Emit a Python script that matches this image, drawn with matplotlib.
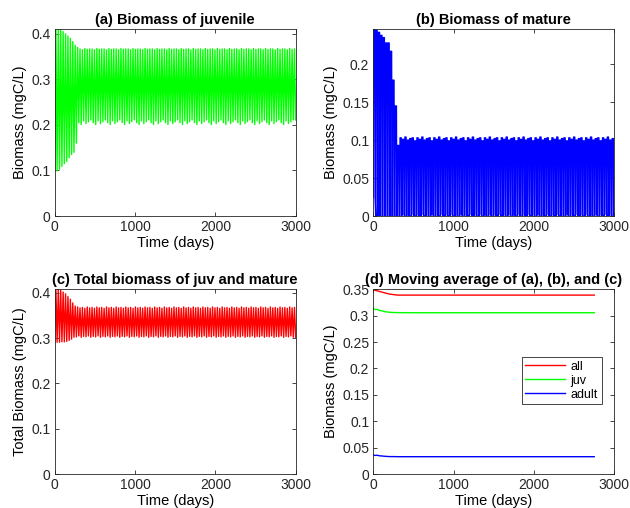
#!/usr/bin/env python3
# four-panel biomass oscillation figure
import matplotlib
matplotlib.use("Agg")
import matplotlib.pyplot as plt
import numpy as np

# === DATA ===
CYCLE_DAYS = 30          # spacing between successive peaks
N_CYCLES = 100           # 0..3000 days

# (a) juvenile: early transient, then repeating steady extremes
JUV_PEAKS_EARLY = [0.41, 0.41, 0.41, 0.405, 0.40, 0.395, 0.39, 0.383, 0.375, 0.37]
JUV_TROUGHS_EARLY = [0.097, 0.099, 0.103, 0.109, 0.115, 0.120, 0.128, 0.135, 0.140, 0.160]
JUV_PEAKS_LATE = [0.367, 0.365, 0.368, 0.366, 0.367]
JUV_TROUGHS_LATE = [0.205, 0.201, 0.209, 0.203, 0.207, 0.211]

# (b) mature: pulses that rise, hold, then fall back to ~0
MAT_PEAKS_EARLY = [0.246, 0.245, 0.242, 0.238, 0.235, 0.228, 0.228, 0.217, 0.179, 0.145, 0.093]
MAT_TROUGHS_EARLY = [0.025, 0.0, 0.0, 0.0, 0.0, 0.0, 0.0, 0.0, 0.0, 0.0, 0.0]
MAT_PEAKS_LATE = [0.103, 0.101, 0.104, 0.100, 0.102, 0.103, 0.099]
MAT_TROUGHS_LATE = [0.0, 0.002, 0.0, 0.001]

# (c) total
TOT_PEAKS_EARLY = [0.408, 0.408, 0.406, 0.402, 0.398, 0.392, 0.386, 0.378, 0.371]
TOT_TROUGHS_EARLY = [0.290, 0.291, 0.291, 0.292, 0.292, 0.293, 0.295, 0.298, 0.302]
TOT_PEAKS_LATE = [0.369, 0.367, 0.368, 0.366]
TOT_TROUGHS_LATE = [0.303, 0.305, 0.302, 0.304]

# (d) moving averages
MA_DAYS = [0, 25, 50, 75, 100, 150, 200, 250, 300, 500, 1000, 2000, 2750]
MA_ALL = [0.349, 0.348, 0.3472, 0.346, 0.345, 0.343, 0.341, 0.340, 0.339, 0.339, 0.339, 0.339, 0.339]
MA_JUV = [0.3135, 0.3115, 0.3122, 0.3098, 0.3095, 0.3075, 0.3065, 0.306, 0.3058, 0.3056, 0.3056, 0.3056, 0.3056]
MA_ADULT = [0.036, 0.0352, 0.0356, 0.0345, 0.0342, 0.0335, 0.033, 0.033, 0.0328, 0.0328, 0.0328, 0.0328, 0.0328]

TEXT = "#262626"
plt.rcParams["font.family"] = ["Liberation Sans", "DejaVu Sans"]
plt.rcParams["font.size"] = 10


def cycles(peaks_early, troughs_early, peaks_late, troughs_late):
    n_late = N_CYCLES - len(peaks_early)
    peaks = list(peaks_early) + list(np.resize(peaks_late, n_late))
    troughs = list(troughs_early) + list(np.resize(troughs_late, n_late))
    return peaks, troughs


def zigzag(*vals):
    """Alternate trough/peak values, one pair per cycle."""
    peaks, troughs = cycles(*vals)
    t, y = [], []
    for i in range(N_CYCLES):
        t += [i * CYCLE_DAYS, i * CYCLE_DAYS + CYCLE_DAYS / 2]
        y += [troughs[i], peaks[i]]
    t.append(N_CYCLES * CYCLE_DAYS)
    y.append(troughs[-1])
    return np.array(t), np.array(y)


def pulses(*vals):
    """Rise to the peak, hold, then drop to the trough, once per cycle."""
    peaks, troughs = cycles(*vals)
    t, y = [], []
    for i in range(N_CYCLES):
        t0 = i * CYCLE_DAYS
        t += [t0, t0 + 3, t0 + 18, t0 + 22]
        y += [troughs[i], peaks[i], peaks[i], troughs[i]]
    return np.array(t), np.array(y)


def style(ax, title, ylabel, yticks, ytop):
    ax.set_title(title, fontweight="bold", fontsize=10.5, pad=4)
    ax.set_xlabel("Time (days)", fontsize=10.5, labelpad=1)
    ax.set_ylabel(ylabel, fontsize=10.5, labelpad=3)
    ax.set_xlim(0, 3000)
    ax.set_ylim(0, ytop)
    ax.set_xticks([0, 1000, 2000, 3000])
    ax.set_yticks(yticks)
    ax.set_yticklabels([f"{v:g}" for v in yticks])
    ax.tick_params(direction="in", top=True, right=True, length=3, width=0.6,
                   colors=TEXT, labelsize=10, pad=3)
    for s in ax.spines.values():
        s.set_color(TEXT)
        s.set_linewidth(0.6)


fig = plt.figure(figsize=(6.3, 5.08), dpi=100)
W, H = 630, 508
def axes_px(left, top, right, bottom):
    return fig.add_axes([left / W, 1 - bottom / H, (right - left) / W, (bottom - top) / H])

ax_a = axes_px(54.7, 29.3, 295.7, 216)
ax_b = axes_px(373.3, 29.3, 614.3, 216)
ax_c = axes_px(54.7, 289.3, 295.7, 474)
ax_d = axes_px(373.3, 289.3, 614.3, 474)

t, y = zigzag(JUV_PEAKS_EARLY, JUV_TROUGHS_EARLY, JUV_PEAKS_LATE, JUV_TROUGHS_LATE)
ax_a.plot(t, y, color=(0, 1, 0), linewidth=1)
style(ax_a, "(a) Biomass of juvenile", "Biomass (mgC/L)", [0, 0.1, 0.2, 0.3, 0.4], 0.41)

t, y = pulses(MAT_PEAKS_EARLY, MAT_TROUGHS_EARLY, MAT_PEAKS_LATE, MAT_TROUGHS_LATE)
ax_b.plot(t, y, color=(0, 0, 1), linewidth=1)
style(ax_b, "(b) Biomass of mature", "Biomass (mgC/L)", [0, 0.05, 0.1, 0.15, 0.2], 0.246)

t, y = zigzag(TOT_PEAKS_EARLY, TOT_TROUGHS_EARLY, TOT_PEAKS_LATE, TOT_TROUGHS_LATE)
ax_c.plot(t, y, color=(1, 0, 0), linewidth=1)
style(ax_c, "(c) Total biomass of juv and mature", "Total Biomass (mgC/L)",
      [0, 0.1, 0.2, 0.3, 0.4], 0.408)

ax_d.plot(MA_DAYS, MA_ALL, color=(1, 0, 0), linewidth=1, label="all")
ax_d.plot(MA_DAYS, MA_JUV, color=(0, 1, 0), linewidth=1, label="juv")
ax_d.plot(MA_DAYS, MA_ADULT, color=(0, 0, 1), linewidth=1, label="adult")
style(ax_d, "(d) Moving average of (a), (b), and (c)", "Biomass (mgC/L)",
      [0, 0.05, 0.1, 0.15, 0.2, 0.25, 0.3, 0.35], 0.35)
leg = ax_d.legend(loc="lower right", bbox_to_anchor=(0.947, 0.377), fontsize=9,
                  handlelength=3.2, handletextpad=0.4, borderpad=0.3, labelspacing=0.15,
                  fancybox=False, framealpha=1, borderaxespad=0)
leg.get_frame().set_edgecolor(TEXT)
leg.get_frame().set_linewidth(0.6)

fig.savefig("out.png", dpi=100)
